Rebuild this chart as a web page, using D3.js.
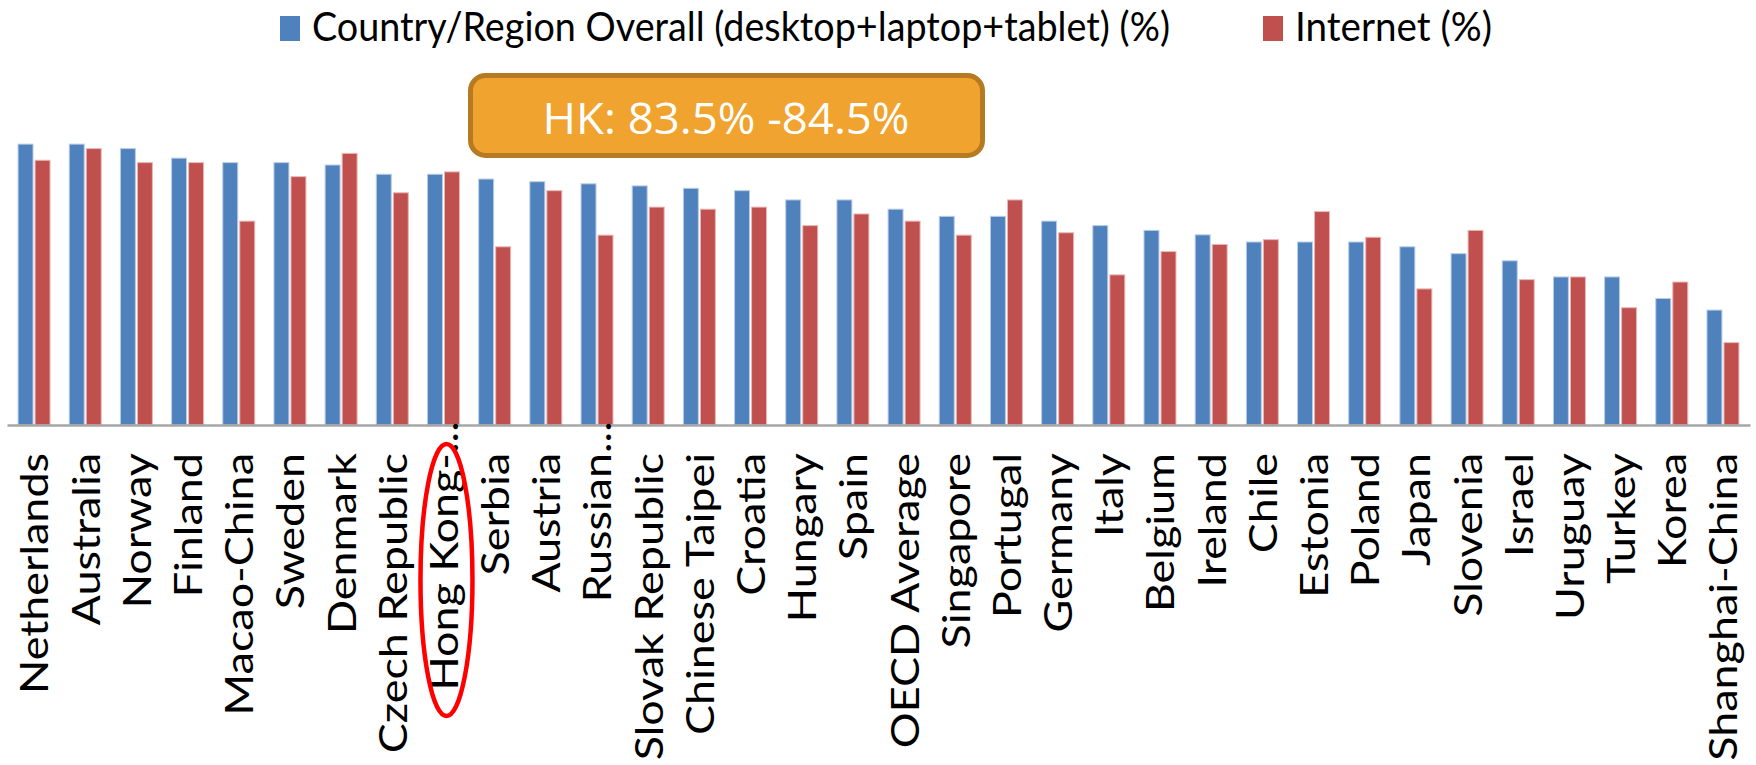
<!DOCTYPE html>
<html>
<head>
<meta charset="utf-8">
<script src="https://cdn.jsdelivr.net/npm/d3@7"></script>
<style>
  body { margin: 0; background: #fff; }
  svg { display: block; }
</style>
</head>
<body>
<div id="chart"></div>
<script>
// categories in chart order (labels truncated as in the original)
var categories = ["Netherlands", "Australia", "Norway", "Finland", "Macao-China", "Sweden",
    "Denmark", "Czech Republic", "Hong Kong-...", "Serbia", "Austria", "Russian...",
    "Slovak Republic", "Chinese Taipei", "Croatia", "Hungary", "Spain", "OECD Average",
    "Singapore", "Portugal", "Germany", "Italy", "Belgium", "Ireland", "Chile", "Estonia",
    "Poland", "Japan", "Slovenia", "Israel", "Uruguay", "Turkey", "Korea", "Shanghai-China"];

var overall = [94.1, 94.1, 92.6, 89.4, 87.9, 87.9, 87.1, 84.0, 84.0, 82.4,
    81.5, 80.8, 80.1, 79.3, 78.5, 75.4, 75.4, 72.3, 69.9, 69.9,
    68.3, 66.8, 65.2, 63.7, 61.3, 61.3, 61.3, 59.7, 57.4, 55.0,
    49.6, 49.6, 42.4, 38.5];

var internet = [88.7, 92.6, 87.9, 87.9, 68.3, 83.2, 91.0, 77.8, 84.8, 59.7,
    78.5, 63.6, 73.0, 72.3, 73.0, 66.8, 70.7, 68.3, 63.6, 75.4,
    64.4, 50.3, 58.1, 60.5, 62.1, 71.5, 62.9, 45.6, 65.2, 48.7,
    49.6, 39.3, 47.9, 27.6];

var seriesNames = ["Country/Region Overall (desktop+laptop+tablet) (%)", "Internet (%)"];
var highlight = "Hong Kong-...";
var note = "HK: 83.5% -84.5%";

var width = 1756, height = 765;
var colors = ["#4F81BD", "#C0504D"];
var edges = ["#B9CDE6", "#E8B8B7"];

var svg = d3.select("#chart")
    .append("svg")
    .attr("width", width)
    .attr("height", height);

var rows = categories.map(function (c, i) {
    return { name: c, values: [overall[i], internet[i]] };
});

var x0 = d3.scaleBand()
    .domain(categories)
    .range([7, 1750])
    .paddingInner(0.375)
    .paddingOuter(0.216);

var x1 = d3.scaleBand()
    .domain([0, 1])
    .range([0, x0.bandwidth()])
    .paddingInner(0.12);

var y = d3.scaleLinear()
    .domain([0, 100])
    .range([425, 126.5]);

// bars
var groups = svg.append("g")
    .selectAll("g")
    .data(rows)
    .enter()
    .append("g")
    .attr("transform", function (d) { return "translate(" + x0(d.name) + ",0)"; });

groups.selectAll("rect")
    .data(function (d) { return d.values; })
    .enter()
    .append("rect")
    .attr("x", function (d, i) { return x1(i); })
    .attr("y", function (d) { return y(d); })
    .attr("width", x1.bandwidth())
    .attr("height", function (d) { return y(0) - y(d); })
    .attr("fill", function (d, i) { return colors[i]; })
    .attr("stroke", function (d, i) { return edges[i]; })
    .attr("stroke-width", 1);

// baseline
var axis = svg.append("g")
    .attr("transform", "translate(0," + y(0) + ")")
    .call(d3.axisBottom(x0).tickSize(0).tickSizeOuter(0).tickFormat(""));
axis.select(".domain")
    .attr("stroke", "#A6A6A6")
    .attr("stroke-width", 2.5);

// category labels, rotated and stretched along their length
var labelFont = 38;
var probe = svg.append("text")
    .attr("font-family", "Lato")
    .attr("font-size", labelFont)
    .text("Netherlands");
var stretch = 241 / probe.node().getComputedTextLength();
probe.remove();

var labels = svg.append("g")
    .attr("font-family", "Lato")
    .attr("font-size", labelFont)
    .attr("fill", "#000");

categories.forEach(function (c) {
    var cx = x0(c) + x0.bandwidth() / 2;
    var parts = c.split("...");
    var g = labels.append("g")
        .attr("transform", "translate(" + cx + ",453) rotate(-90) scale(" + stretch + ",1)");
    g.append("text")
        .attr("text-anchor", "end")
        .attr("dy", "0.38em")
        .text(parts[0]);
    if (parts.length > 1) {
        g.append("text")
            .attr("text-anchor", "start")
            .attr("dy", "0.38em")
            .text("...");
    }
});

// red ring round the Hong Kong label
svg.append("ellipse")
    .attr("cx", x0(highlight) + x0.bandwidth() / 2 + 3)
    .attr("cy", 580)
    .attr("rx", 26)
    .attr("ry", 136)
    .attr("fill", "none")
    .attr("stroke", "#FF0000")
    .attr("stroke-width", 4.5);

// legend
var legendX = [280, 1263];
var legendW = [858, 197];
seriesNames.forEach(function (s, i) {
    svg.append("rect")
        .attr("x", legendX[i])
        .attr("y", 16)
        .attr("width", 20)
        .attr("height", 25)
        .attr("fill", colors[i]);
    svg.append("text")
        .attr("x", legendX[i] + 32)
        .attr("y", 41)
        .attr("font-family", "Lato")
        .attr("font-size", 40)
        .attr("textLength", legendW[i])
        .attr("lengthAdjust", "spacingAndGlyphs")
        .attr("fill", "#000")
        .text(s);
});

// HK note box
svg.append("rect")
    .attr("x", 470.5)
    .attr("y", 75.5)
    .attr("width", 512)
    .attr("height", 80)
    .attr("rx", 15)
    .attr("fill", "#F0A32F")
    .attr("stroke", "#B67A22")
    .attr("stroke-width", 5);

svg.append("text")
    .attr("x", 726)
    .attr("y", 134)
    .attr("text-anchor", "middle")
    .attr("font-family", "Open Sans")
    .attr("font-size", 43)
    .attr("textLength", 367)
    .attr("lengthAdjust", "spacingAndGlyphs")
    .attr("fill", "#fff")
    .text(note);
</script>
</body>
</html>
